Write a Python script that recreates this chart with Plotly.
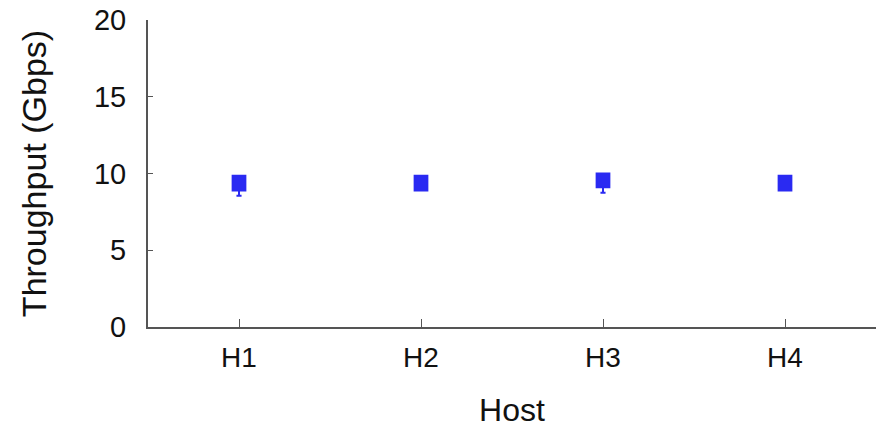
import plotly.graph_objects as go

hosts = ["H1", "H2", "H3", "H4"]
q1 = [8.9, 8.9, 9.1, 8.9]
median = [9.35, 9.35, 9.55, 9.35]
q3 = [9.85, 9.85, 10.0, 9.85]
lowerfence = [8.55, 8.9, 8.75, 8.9]
upperfence = [9.85, 9.85, 10.0, 9.85]

fig = go.Figure()
fig.add_trace(go.Box(
    x=hosts, q1=q1, median=median, q3=q3,
    lowerfence=lowerfence, upperfence=upperfence,
    fillcolor="#2a2af2", line=dict(color="#2a2af2", width=2),
    width=0.07, whiskerwidth=0.4, boxpoints=False, showlegend=False,
))

font_family = "Arial, 'Liberation Sans', sans-serif"
fig.update_layout(
    width=881, height=428,
    margin=dict(l=148, r=5, t=20, b=101),
    plot_bgcolor="white", paper_bgcolor="white",
    font=dict(family=font_family, size=28, color="#111"),
    xaxis=dict(
        range=[-0.5, 3.5], showline=True, linecolor="#555", linewidth=2,
        ticks="inside", ticklen=8, tickcolor="#555", tickwidth=1,
        showgrid=False, zeroline=False,
        title=dict(text="Host", standoff=27, font=dict(size=32)),
        tickfont=dict(size=28), ticklabelstandoff=4,
    ),
    yaxis=dict(
        range=[0, 20], tickvals=[0, 5, 10, 15, 20], showline=True,
        linecolor="#555", linewidth=2, ticks="inside", ticklen=5,
        tickcolor="#555", tickwidth=1, showgrid=False, zeroline=False,
        title=dict(text="Throughput (Gbps)", standoff=37, font=dict(size=34)),
        tickfont=dict(size=29), ticklabelstandoff=14,
    ),
)
fig.write_html("out.html")
